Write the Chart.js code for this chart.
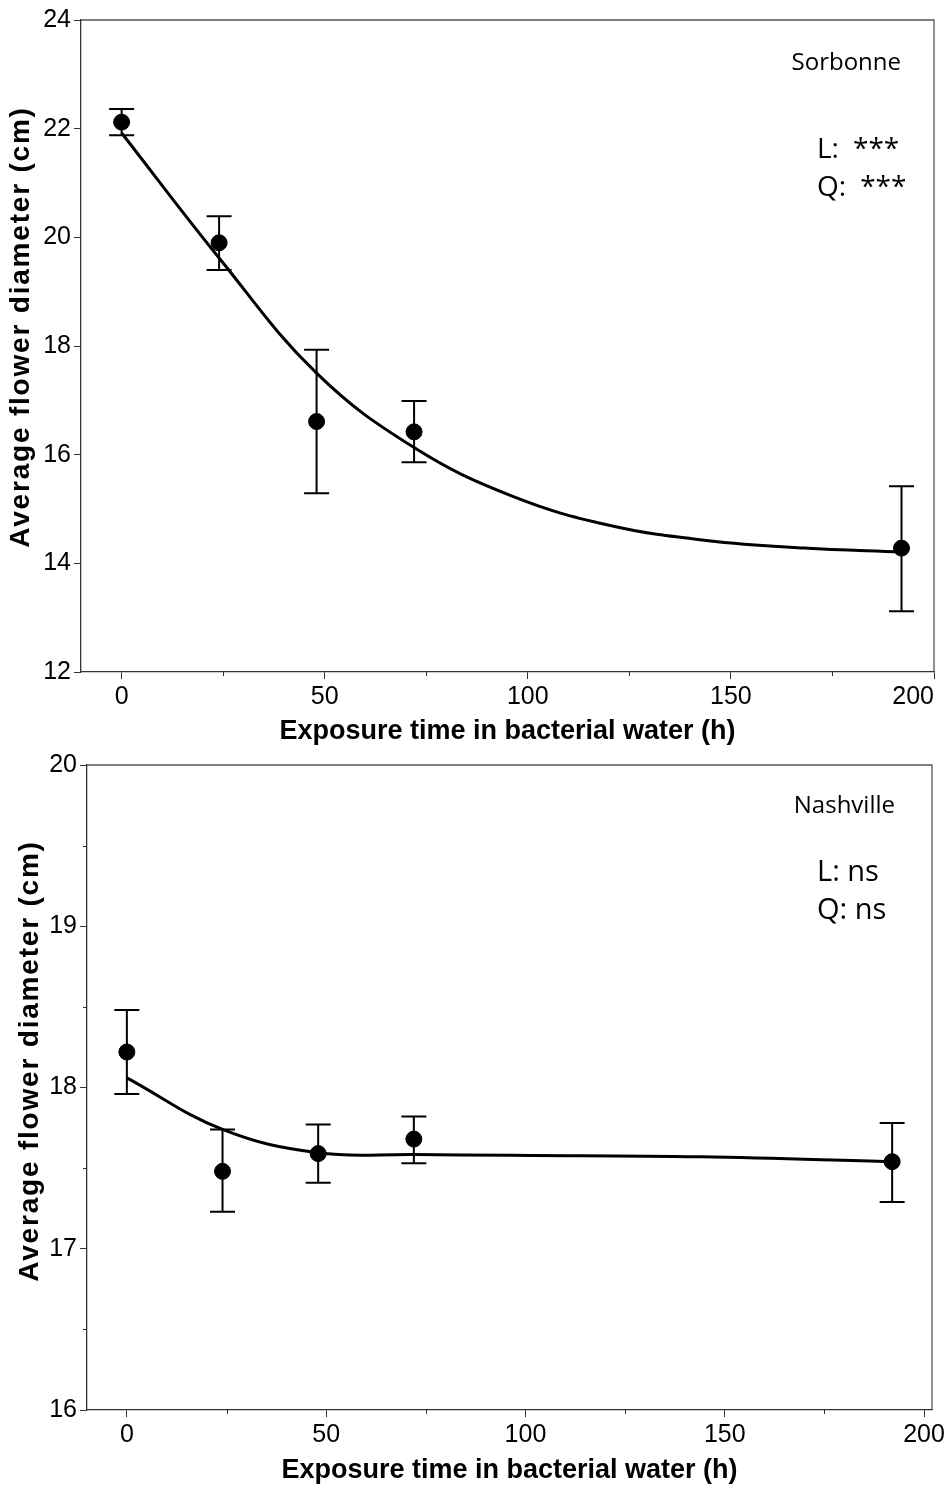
<!DOCTYPE html>
<html>
<head>
<meta charset="utf-8">
<script src="https://cdn.jsdelivr.net/npm/chart.js@4.4.0/dist/chart.umd.min.js"></script>
<style>
  html, body { margin: 0; padding: 0; background: #fff; }
  .box { position: absolute; left: 0; width: 948px; }
  #topBox { top: 0; height: 745px; }
  #bottomBox { top: 745px; height: 742px; }
</style>
</head>
<body>
<div class="box" id="topBox"><canvas id="chartTop"></canvas></div>
<div class="box" id="bottomBox"><canvas id="chartBottom"></canvas></div>
<script>
// exposure times (h) of the measured points
var hours = [0, 24, 48, 72, 192];

// Sorbonne: means and error bar ends (cm)
var sorbMean  = [22.12, 19.90, 16.61, 16.42, 14.28];
var sorbUpper = [22.36, 20.39, 17.93, 16.99, 15.42];
var sorbLower = [21.88, 19.40, 15.29, 15.86, 13.12];
// fitted curve
var sorbFitX = [0, 24, 48, 72, 96, 120, 144, 168, 192];
var sorbFitY = [21.92, 19.62, 17.50, 16.13, 15.24, 14.70, 14.42, 14.28, 14.21];

// Nashville
var nashMean  = [18.22, 17.48, 17.59, 17.68, 17.54];
var nashUpper = [18.48, 17.74, 17.77, 17.82, 17.78];
var nashLower = [17.96, 17.23, 17.41, 17.53, 17.29];
var nashFitX = [0, 24, 48, 72, 96, 144, 192];
var nashFitY = [18.06, 17.74, 17.595, 17.585, 17.58, 17.57, 17.54];

// axis ticks
var xMajor = [0, 50, 100, 150, 200];
var xMinor = [25, 75, 125, 175];
var sorbYTicks = [12, 14, 16, 18, 20, 22, 24];
var nashYTicks = [16, 17, 18, 19, 20];
var nashYMinor = [16.5, 17.5, 18.5, 19.5];

var xTitle = 'Exposure time in bacterial water (h)';
var yTitle = 'Average flower diameter (cm)';

function pairs(xs, ys) {
  return xs.map(function (x, i) { return { x: x, y: ys[i] }; });
}

// error bars, frame, minor ticks, y title and the little text block
var extras = {
  id: 'extras',
  beforeDatasetsDraw: function (chart, args, o) {
    var ctx = chart.ctx, xs = chart.scales.x, ys = chart.scales.y;
    ctx.save();
    ctx.strokeStyle = '#000';
    ctx.lineWidth = 2;
    o.x.forEach(function (v, i) {
      var px = xs.getPixelForValue(v);
      var t = ys.getPixelForValue(o.upper[i]);
      var b = ys.getPixelForValue(o.lower[i]);
      ctx.beginPath();
      ctx.moveTo(px, t); ctx.lineTo(px, b);
      ctx.moveTo(px - 12.5, t); ctx.lineTo(px + 12.5, t);
      ctx.moveTo(px - 12.5, b); ctx.lineTo(px + 12.5, b);
      ctx.stroke();
    });
    ctx.restore();
  },
  afterDraw: function (chart, args, o) {
    var ctx = chart.ctx, a = chart.chartArea, xs = chart.scales.x, ys = chart.scales.y;
    ctx.save();
    ctx.strokeStyle = '#555';
    ctx.lineWidth = 1.3;
    ctx.beginPath();
    ctx.moveTo(a.left, a.top); ctx.lineTo(a.right, a.top); ctx.lineTo(a.right, a.bottom);
    ctx.stroke();
    ctx.strokeStyle = '#333';
    ctx.lineWidth = 1;
    ctx.beginPath();
    o.xMinor.forEach(function (v) {
      var px = Math.round(xs.getPixelForValue(v)) + 0.5;
      ctx.moveTo(px, a.bottom); ctx.lineTo(px, a.bottom + 4);
    });
    (o.yMinor || []).forEach(function (v) {
      var py = Math.round(ys.getPixelForValue(v)) + 0.5;
      ctx.moveTo(a.left, py); ctx.lineTo(a.left - 4, py);
    });
    ctx.stroke();
    ctx.fillStyle = '#000';
    ctx.textBaseline = 'middle';
    o.notes.forEach(function (n) {
      ctx.font = n.size + 'px "Open Sans", "Noto Sans", sans-serif';
      ctx.textAlign = n.align;
      ctx.fillText(n.text, a.right + n.dx, a.top + n.dy);
    });
    // y axis title
    ctx.save();
    ctx.translate(o.yTitleX, a.top + o.yTitleDy);
    ctx.rotate(-Math.PI / 2);
    ctx.font = 'bold 28px "Liberation Sans", Arial, sans-serif';
    if ('letterSpacing' in ctx) ctx.letterSpacing = '1.8px';
    ctx.textAlign = 'center';
    ctx.fillText(yTitle, 0, 0);
    ctx.restore();
    ctx.restore();
  }
};

function makeChart(id, s) {
  var ctx = document.getElementById(id).getContext('2d');
  return new Chart(ctx, {
    type: 'scatter',
    data: {
      datasets: [{
        type: 'line',
        data: pairs(s.fitX, s.fitY),
        borderColor: '#000',
        borderWidth: 3,
        pointRadius: 0,
        fill: false,
        tension: 0.4
      }, {
        data: pairs(hours, s.mean),
        backgroundColor: '#000',
        borderColor: '#000',
        pointRadius: 8,
        pointHoverRadius: 8
      }]
    },
    options: {
      responsive: true,
      maintainAspectRatio: false,
      animation: false,
      events: [],
      layout: { padding: { top: 20, right: s.padRight, left: 0, bottom: 0 } },
      plugins: {
        legend: { display: false },
        tooltip: { enabled: false },
        extras: {
          x: hours, upper: s.upper, lower: s.lower,
          xMinor: xMinor, yMinor: s.yMinor, notes: s.notes,
          yTitleX: s.yTitleX, yTitleDy: s.yTitleDy
        }
      },
      scales: {
        x: {
          type: 'linear',
          min: -10,
          max: s.xMax,
          afterBuildTicks: function (sc) { sc.ticks = xMajor.map(function (v) { return { value: v }; }); },
          afterFit: function (sc) {
            sc.height = s.xHeight;
            sc.paddingLeft = 0; sc.paddingRight = 0;
          },
          grid: { display: true, drawOnChartArea: false, drawTicks: true, tickLength: 7, color: '#333', lineWidth: 1 },
          border: { display: true, color: '#333', width: 1.3 },
          ticks: {
            color: '#000', padding: 3, maxRotation: 0,
            font: { family: 'Liberation Sans, Arial, sans-serif', size: 25 },
            callback: function (v) {
              // the last label sits flush with the frame in the top panel
              return (s.lastFlush && v === xMajor[xMajor.length - 1]) ? v + '\u2007\u2007\u2007' : '' + v;
            }
          },
          title: {
            display: true, text: xTitle, color: '#000',
            padding: { top: 0, bottom: s.xTitlePad },
            font: { family: 'Liberation Sans, Arial, sans-serif', size: 27, weight: 'bold', lineHeight: 1 }
          }
        },
        y: {
          min: s.yTicks[0],
          max: s.yTicks[s.yTicks.length - 1],
          afterBuildTicks: function (sc) { sc.ticks = s.yTicks.map(function (v) { return { value: v }; }); },
          afterFit: function (sc) {
            sc.width = s.yWidth;
            sc.paddingTop = 0; sc.paddingBottom = 0;
          },
          grid: { display: true, drawOnChartArea: false, drawTicks: true, tickLength: 7, color: '#333', lineWidth: 1 },
          border: { display: true, color: '#333', width: 1.3 },
          ticks: { color: '#000', padding: 3, font: { family: 'Liberation Sans, Arial, sans-serif', size: 25 } },
          title: { display: false }
        }
      }
    },
    plugins: [extras]
  });
}

makeChart('chartTop', {
  fitX: sorbFitX, fitY: sorbFitY, mean: sorbMean, upper: sorbUpper, lower: sorbLower,
  yTicks: sorbYTicks, yMinor: null, xMax: 200, lastFlush: true,
  padRight: 14, yWidth: 81, xHeight: 73, xTitlePad: 0,
  yTitleX: 21, yTitleDy: 307,
  notes: [
    { text: 'Sorbonne', dx: -33, dy: 43, size: 24, align: 'right' },
    { text: 'L:\u2002***', dx: -117, dy: 130, size: 28, align: 'left' },
    { text: 'Q:\u2002***', dx: -117, dy: 168, size: 28, align: 'left' }
  ]
});

makeChart('chartBottom', {
  fitX: nashFitX, fitY: nashFitY, mean: nashMean, upper: nashUpper, lower: nashLower,
  yTicks: nashYTicks, yMinor: nashYMinor, xMax: 202, lastFlush: false,
  padRight: 16, yWidth: 87, xHeight: 77, xTitlePad: 3,
  yTitleX: 30, yTitleDy: 296,
  notes: [
    { text: 'Nashville', dx: -37, dy: 41, size: 24, align: 'right' },
    { text: 'L: ns', dx: -115, dy: 108, size: 29, align: 'left' },
    { text: 'Q: ns', dx: -115, dy: 146, size: 29, align: 'left' }
  ]
});
</script>
</body>
</html>
